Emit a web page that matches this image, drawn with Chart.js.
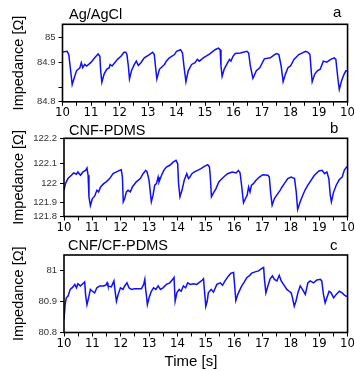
<!DOCTYPE html>
<html>
<head>
<meta charset="utf-8">
<script src="https://cdn.jsdelivr.net/npm/chart.js@4"></script>
<style>
  html, body { margin: 0; padding: 0; background: #fff; }
  #wrap { position: relative; width: 354px; height: 371px; }
  #wrap canvas { position: absolute; left: 0; top: 0; }
</style>
</head>
<body>
<div id="wrap">
  <canvas id="panelA" width="354" height="371"></canvas>
  <canvas id="panelB" width="354" height="371"></canvas>
  <canvas id="panelC" width="354" height="371"></canvas>
</div>
<script>
// ---- time axis ----
const tickTimes  = [10, 11, 12, 13, 14, 15, 16, 17, 18, 19, 20];
const tickLabels = ['10', '11', '12', '13', '14', '15', '16', '17', '18', '19', '10'];

// ---- Ag/AgCl electrode ----
const timeA = [10.00,10.16,10.22,10.28,10.34,10.40,10.49,10.61,10.66,10.71,10.78,10.85,10.99,11.16,11.25,11.31,11.34,11.38,11.46,11.55,11.64,11.67,11.74,11.93,12.05,12.16,12.22,12.26,12.31,12.35,12.42,12.52,12.59,12.66,12.75,12.87,13.05,13.16,13.22,13.26,13.31,13.40,13.52,13.58,13.64,13.75,13.93,14.00,14.14,14.21,14.26,14.33,14.41,14.53,14.65,14.73,14.80,14.94,15.18,15.35,15.47,15.53,15.56,15.60,15.67,15.76,15.86,15.91,15.98,16.06,16.24,16.47,16.53,16.59,16.68,16.80,16.92,17.08,17.29,17.44,17.51,17.59,17.67,17.74,17.82,17.91,18.00,18.12,18.29,18.53,18.61,18.68,18.73,18.76,18.85,18.94,19.04,19.15,19.27,19.41,19.53,19.59,19.62,19.67,19.71,19.79,19.88,19.94,20.00];
const impA  = [84.941,84.944,84.931,84.873,84.813,84.835,84.867,84.879,84.899,84.879,84.892,84.886,84.899,84.922,84.933,84.924,84.867,84.822,84.854,84.873,84.879,84.892,84.886,84.912,84.924,84.940,84.940,84.931,84.886,84.835,84.867,84.892,84.905,84.888,84.899,84.918,84.931,84.940,84.931,84.886,84.835,84.873,84.886,84.892,84.905,84.918,84.931,84.944,84.950,84.937,84.886,84.824,84.867,84.892,84.899,84.912,84.905,84.918,84.935,84.950,84.956,84.950,84.886,84.845,84.873,84.892,84.912,84.905,84.924,84.935,84.937,84.944,84.937,84.886,84.837,84.867,84.879,84.914,84.918,84.931,84.935,84.931,84.886,84.824,84.854,84.879,84.886,84.912,84.931,84.944,84.940,84.931,84.860,84.824,84.854,84.867,84.873,84.905,84.901,84.912,84.918,84.912,84.879,84.828,84.794,84.828,84.854,84.867,84.867];
const yTicksA  = [84.745, 84.8, 84.9, 85];
const yLabelsA = ['84.8', '', '84.9', '85'];

// ---- CNF-PDMS electrode ----
const timeB = [10.00,10.05,10.14,10.26,10.34,10.44,10.49,10.58,10.67,10.76,10.81,10.85,10.88,10.93,11.00,11.08,11.16,11.22,11.29,11.40,11.49,11.61,11.73,11.85,11.96,12.02,12.06,12.09,12.14,12.20,12.26,12.34,12.41,12.55,12.69,12.79,12.88,12.93,13.00,13.08,13.14,13.20,13.26,13.32,13.35,13.44,13.52,13.61,13.73,13.85,13.95,14.01,14.04,14.09,14.16,14.24,14.33,14.39,14.44,14.51,14.60,14.71,14.83,14.95,15.07,15.13,15.16,15.20,15.27,15.36,15.46,15.54,15.66,15.77,15.93,16.07,16.15,16.21,16.27,16.33,16.40,16.46,16.51,16.56,16.61,16.68,16.77,16.89,17.01,17.19,17.24,17.29,17.34,17.42,17.54,17.62,17.69,17.77,17.89,18.01,18.13,18.19,18.24,18.33,18.42,18.51,18.60,18.71,18.83,18.99,19.10,19.19,19.27,19.34,19.39,19.43,19.50,19.60,19.71,19.81,19.89,19.97,20.00];
const impB  = [121.964,121.998,122.024,122.041,122.053,122.046,122.058,122.041,122.058,122.066,122.078,122.041,121.931,121.885,121.922,121.934,121.964,121.956,121.981,121.998,122.007,122.024,122.049,122.058,122.066,122.069,122.032,121.905,121.922,121.956,121.964,121.956,121.981,122.007,122.024,122.049,122.066,122.058,122.015,121.905,121.939,121.990,121.998,122.032,122.007,122.041,122.066,122.083,122.092,122.108,122.117,122.100,121.998,121.931,121.964,122.015,122.049,122.024,122.032,122.049,122.058,122.066,122.075,122.086,122.095,122.083,122.032,121.931,121.951,121.973,122.007,122.019,122.036,122.049,122.058,122.053,122.066,122.053,121.981,121.900,121.922,121.939,121.981,121.956,121.990,121.998,122.015,122.032,122.044,122.041,122.032,121.947,121.888,121.922,121.947,121.964,121.981,121.998,122.024,122.032,122.024,121.956,121.866,121.905,121.939,121.968,121.990,122.015,122.041,122.063,122.066,122.049,122.058,122.024,121.939,121.905,121.951,121.990,122.019,122.032,122.069,122.083,122.086];
const yTicksB  = [121.83, 121.9, 122, 122.1, 122.23];
const yLabelsB = ['121.8', '121.9', '122', '122.1', '122.2'];

// ---- CNF/CF-PDMS electrode ----
const timeC = [10.00,10.04,10.08,10.14,10.22,10.32,10.38,10.44,10.49,10.58,10.67,10.73,10.76,10.81,10.88,10.93,11.00,11.08,11.16,11.26,11.38,11.47,11.52,11.55,11.67,11.76,11.81,11.85,11.91,11.99,12.08,12.14,12.22,12.29,12.38,12.49,12.61,12.73,12.81,12.85,12.88,12.91,12.94,13.00,13.08,13.16,13.24,13.32,13.40,13.49,13.61,13.73,13.85,13.88,13.92,13.98,14.06,14.13,14.21,14.29,14.36,14.45,14.56,14.68,14.80,14.88,14.92,14.95,15.00,15.05,15.09,15.19,15.27,15.39,15.51,15.59,15.68,15.80,15.89,15.98,16.01,16.06,16.13,16.21,16.27,16.36,16.45,16.53,16.62,16.74,16.86,16.98,17.04,17.07,17.12,17.19,17.27,17.35,17.42,17.51,17.59,17.66,17.74,17.86,17.94,18.01,18.05,18.12,18.18,18.25,18.33,18.41,18.51,18.60,18.68,18.80,18.92,19.04,19.09,19.15,19.21,19.27,19.35,19.42,19.51,19.60,19.71,19.81,19.86,19.95,20.00];
const impC  = [80.841,80.889,80.911,80.916,80.938,80.946,80.954,80.943,80.956,80.949,80.957,80.962,80.922,80.889,80.916,80.938,80.932,80.927,80.943,80.949,80.949,80.951,80.959,80.949,80.946,80.965,80.927,80.900,80.922,80.943,80.938,80.949,80.959,80.943,80.938,80.940,80.940,80.940,80.954,80.970,80.938,80.916,80.889,80.911,80.932,80.943,80.938,80.949,80.938,80.943,80.954,80.959,80.972,80.976,80.900,80.927,80.938,80.932,80.949,80.943,80.959,80.954,80.956,80.954,80.962,80.968,80.972,80.938,80.884,80.900,80.927,80.938,80.929,80.954,80.959,80.951,80.965,80.981,80.990,80.992,80.959,80.902,80.922,80.938,80.949,80.962,80.976,80.981,80.990,80.994,80.997,81.005,81.008,80.970,80.927,80.949,80.972,80.981,80.970,80.965,80.983,80.965,80.954,80.938,80.932,80.927,80.914,80.884,80.900,80.927,80.949,80.938,80.922,80.959,80.965,80.959,80.968,80.970,80.965,80.922,80.895,80.911,80.932,80.927,80.911,80.922,80.932,80.927,80.922,80.916,80.916];
const yTicksC  = [80.8, 80.9, 81];
const yLabelsC = ['80.8', '80.9', '81'];

const SANS   = "'Liberation Sans', Arial, sans-serif";
const NARROW = "'Liberation Sans Narrow', 'DejaVu Sans Condensed', 'Liberation Sans', sans-serif";
const CANVAS_W = 354, CANVAS_H = 371;

// half-unit tick marks between the labelled seconds
const minorTimes = tickTimes.slice(1).map((t, i) => (t + tickTimes[i]) / 2);
const allTickTimes = tickTimes.concat(minorTimes).sort((a, b) => a - b);

// frame around the plot area plus the panel captions
const panelDecor = {
  id: 'panelDecor',
  afterDraw(chart, args, o) {
    const { ctx, chartArea: a } = chart;
    ctx.save();
    ctx.strokeStyle = '#000';
    ctx.lineWidth = 1.6;
    ctx.strokeRect(a.left, a.top, a.right - a.left, a.bottom - a.top);
    ctx.fillStyle = '#000';
    ctx.textBaseline = 'alphabetic';
    ctx.textAlign = 'left';
    ctx.font = '14.5px ' + SANS;
    ctx.fillText(o.name, o.nameX, o.nameY);
    ctx.font = '15px ' + SANS;
    ctx.fillText(o.letter, o.letterX, o.letterY);
    if (o.xTitle) {
      ctx.textAlign = 'center';
      ctx.font = '15px ' + SANS;
      ctx.fillText(o.xTitle, o.xTitleX, o.xTitleY);
    }
    ctx.restore();
  }
};

function makePanel(id, times, values, yTicks, yLabels, box, decor) {
  const points = times.map((t, i) => ({ x: t, y: values[i] }));
  return new Chart(document.getElementById(id), {
    type: 'line',
    data: {
      datasets: [{
        data: points,
        borderColor: 'rgb(15,15,250)',
        borderWidth: 1.5,
        pointRadius: 0,
        tension: 0,
        fill: false
      }]
    },
    options: {
      responsive: false,
      animation: false,
      devicePixelRatio: 1,
      layout: { padding: { left: 0, right: CANVAS_W - box.right, top: box.top, bottom: 0 } },
      plugins: { legend: { display: false }, tooltip: { enabled: false }, panelDecor: decor },
      scales: {
        x: {
          type: 'linear',
          min: 10, max: 20,
          afterBuildTicks: s => { s.ticks = allTickTimes.map(v => ({ value: v })); },
          afterFit: s => { s.height = CANVAS_H - box.bottom; },
          ticks: {
            autoSkip: false, maxRotation: 0, minRotation: 0,
            padding: -1,
            color: '#000',
            font: { family: NARROW, size: 13 },
            callback: v => {
              const i = tickTimes.indexOf(v);
              return i >= 0 ? tickLabels[i] : '';
            }
          },
          grid: { drawOnChartArea: false, drawTicks: true, tickLength: 4, color: '#000', lineWidth: 1 },
          border: { display: false }
        },
        y: {
          type: 'linear',
          min: yTicks[0], max: box.yMax,
          afterBuildTicks: s => { s.ticks = yTicks.map(v => ({ value: v })); },
          afterFit: s => { s.width = box.left; },
          ticks: {
            autoSkip: false,
            padding: 3,
            color: '#333',
            font: { family: SANS, size: 9.5 },
            callback: (v, i) => yLabels[i]
          },
          grid: { drawOnChartArea: false, drawTicks: true, tickLength: 4, color: '#000', lineWidth: 1 },
          border: { display: false },
          title: {
            display: true,
            text: 'Impedance [Ω]',
            color: '#000',
            font: { family: SANS, size: 14.5 },
            padding: { top: 10, bottom: 0 }
          }
        }
      }
    },
    plugins: [panelDecor]
  });
}

makePanel('panelA', timeA, impA, yTicksA, yLabelsA,
  { left: 62.5, right: 348, top: 24.3, bottom: 101.8, yMax: 85.05 },
  { name: 'Ag/AgCl', nameX: 69, nameY: 19, letter: 'a', letterX: 333, letterY: 17 });

makePanel('panelB', timeB, impB, yTicksB, yLabelsB,
  { left: 64, right: 348, top: 138.3, bottom: 216.5, yMax: 122.23 },
  { name: 'CNF-PDMS', nameX: 69, nameY: 135, letter: 'b', letterX: 330, letterY: 133 });

makePanel('panelC', timeC, impC, yTicksC, yLabelsC,
  { left: 64, right: 348, top: 255, bottom: 332.5, yMax: 81.048 },
  { name: 'CNF/CF-PDMS', nameX: 68, nameY: 250, letter: 'c', letterX: 330, letterY: 249.5,
    xTitle: 'Time [s]', xTitleX: 191, xTitleY: 366 });
</script>
</body>
</html>
